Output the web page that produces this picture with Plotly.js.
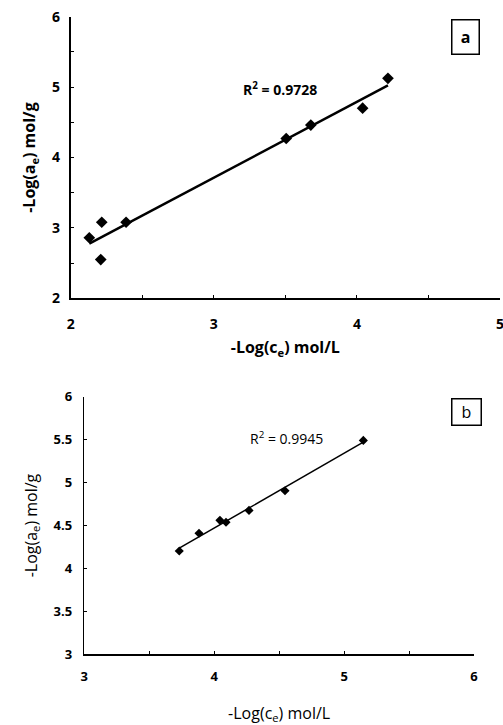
<!DOCTYPE html>
<html><head><meta charset="utf-8">
<script src="https://cdn.plot.ly/plotly-3.0.1.min.js"></script>
<style>html,body{margin:0;padding:0;background:#fff}#c{width:503px;height:725px}</style>
</head><body><div id="c"></div>
<script>
// Panel a
const xA = [2.13, 2.217, 2.21, 2.387, 3.506, 3.678, 4.04, 4.217];
const yA = [2.86, 3.08, 2.55, 3.08, 4.27, 4.46, 4.70, 5.125];
const r2A = "R<sup>2</sup> = 0.9728";
// Panel b
const xB = [3.731, 3.883, 4.044, 4.091, 4.268, 4.545, 5.148];
const yB = [4.203, 4.409, 4.560, 4.537, 4.676, 4.905, 5.491];
const r2B = "R<sup>2</sup> = 0.9945";
const xTitle = "-Log(c<sub>e</sub>) mol/L";
const yTitle = "-Log(a<sub>e</sub>) mol/g";

function fit(x, y) {
  const n = x.length;
  const mx = x.reduce((a, b) => a + b, 0) / n;
  const my = y.reduce((a, b) => a + b, 0) / n;
  let sxy = 0, sxx = 0;
  for (let i = 0; i < n; i++) { sxy += (x[i] - mx) * (y[i] - my); sxx += (x[i] - mx) ** 2; }
  const m = sxy / sxx, c = my - m * mx;
  const x0 = Math.min(...x), x1 = Math.max(...x);
  return { x: [x0, x1], y: [m * x0 + c, m * x1 + c] };
}
const fA = fit(xA, yA), fB = fit(xB, yB);
const W = 503, H = 725;
const font = "Open Sans, Liberation Sans, sans-serif";

const traces = [
  { x: fA.x, y: fA.y, mode: 'lines', line: { color: '#000', width: 2.5 }, xaxis: 'x', yaxis: 'y', hoverinfo: 'skip' },
  { x: xA, y: yA, mode: 'markers', marker: { symbol: 'diamond', size: 9, color: '#000' }, xaxis: 'x', yaxis: 'y' },
  { x: fB.x, y: fB.y, mode: 'lines', line: { color: '#000', width: 1.5 }, xaxis: 'x2', yaxis: 'y2', hoverinfo: 'skip' },
  { x: xB, y: yB, mode: 'markers', marker: { symbol: 'diamond', size: 7, color: '#000' }, xaxis: 'x2', yaxis: 'y2' }
];

function ax(extra) {
  return Object.assign({
    showgrid: false, zeroline: false, showline: true, linecolor: '#000', mirror: false,
    ticks: 'inside', ticklen: 3, tickcolor: '#000', tickwidth: 1,
    tickfont: { family: font, size: 14, color: '#000', weight: 'bold' },
    ticklabeloverflow: 'allow', fixedrange: true
  }, extra);
}

const layout = {
  width: W, height: H, showlegend: false,
  margin: { l: 0, r: 0, t: 0, b: 0 },
  paper_bgcolor: '#fff', plot_bgcolor: '#fff',
  font: { family: font, color: '#000' },
  xaxis: ax({ domain: [70.7 / W, 500 / W], range: [2, 5], dtick: 1, linewidth: 2, anchor: 'y',
    minor: { dtick: 0.5, ticks: 'inside', ticklen: 3, tickcolor: '#000' }, ticklabelstandoff: 12,
    title: { text: xTitle, font: { family: font, size: 16, color: '#000', weight: 'bold' }, standoff: 10 } }),
  yaxis: ax({ domain: [1 - 298.3 / H, 1 - 16.7 / H], range: [2, 6], dtick: 1, linewidth: 2, anchor: 'x',
    minor: { dtick: 0.5, ticks: 'inside', ticklen: 3, tickcolor: '#000' }, ticklabelstandoff: 6,
    title: { text: yTitle, font: { family: font, size: 16, color: '#000', weight: 'bold' }, standoff: 12 } }),
  xaxis2: ax({ domain: [84.3 / W, 474 / W], range: [3, 6], dtick: 1, linewidth: 1.5, anchor: 'y2',
    minor: { dtick: 0.5, ticks: 'inside', ticklen: 3, tickcolor: '#000' }, ticklabelstandoff: 10,
    tickfont: { family: font, size: 13, color: '#000', weight: 'bold' },
    title: { text: xTitle, font: { family: font, size: 16, color: '#000' }, standoff: 28 } }),
  yaxis2: ax({ domain: [1 - 654.3 / H, 1 - 396.7 / H], range: [3, 6], dtick: 0.5, linewidth: 1.5, anchor: 'x2',
    ticklabelstandoff: 8,
    tickfont: { family: font, size: 13, color: '#000', weight: 'bold' },
    title: { text: yTitle, font: { family: font, size: 16, color: '#000' }, standoff: 12 } }),
  annotations: [
    { xref: 'x', yref: 'y', x: 3.19, y: 4.97, xanchor: 'left', yanchor: 'middle', showarrow: false, text: r2A,
      font: { family: font, size: 14, color: '#000', weight: 'bold' } },
    { xref: 'x2', yref: 'y2', x: 4.26, y: 5.515, xanchor: 'left', yanchor: 'middle', showarrow: false, text: r2B,
      font: { family: font, size: 14, color: '#000' } },
    { xref: 'paper', yref: 'paper', x: 465 / W, y: 1 - 37.3 / H, xanchor: 'center', yanchor: 'middle', showarrow: false,
      text: 'a', width: 24, height: 31, bordercolor: '#000', borderwidth: 1.5, borderpad: 1,
      font: { family: font, size: 16, color: '#000', weight: 'bold' } },
    { xref: 'paper', yref: 'paper', x: 466 / W, y: 1 - 412 / H, xanchor: 'center', yanchor: 'middle', showarrow: false,
      text: 'b', width: 26, height: 23, bordercolor: '#000', borderwidth: 1.5, borderpad: 1,
      font: { family: font, size: 16, color: '#000' } }
  ]
};
Plotly.newPlot('c', traces, layout, { staticPlot: true, displayModeBar: false });
</script></body></html>
